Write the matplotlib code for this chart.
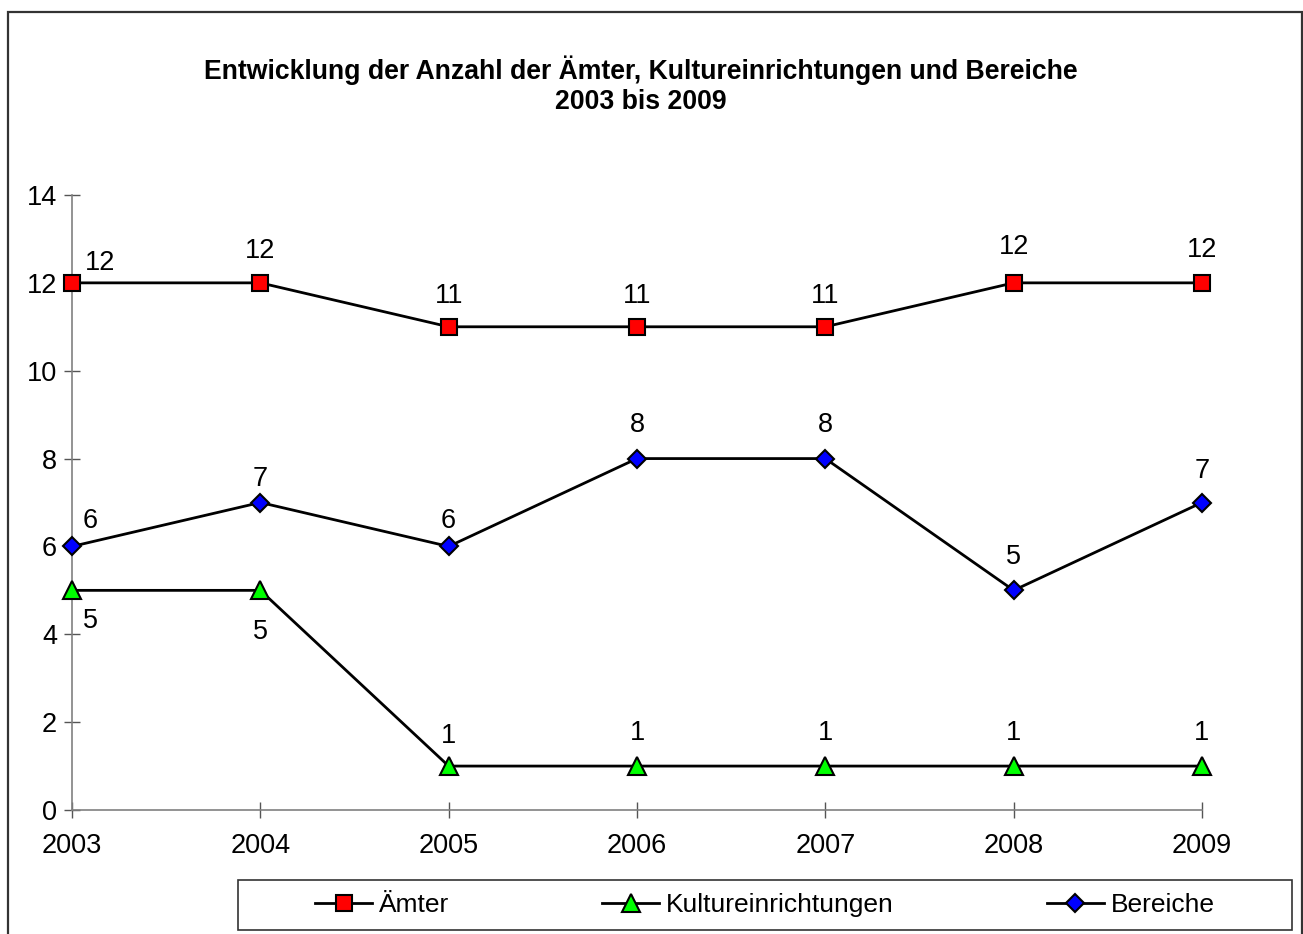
import matplotlib
matplotlib.use("Agg")
import matplotlib.pyplot as plt
from matplotlib.patches import Rectangle

plt.rcParams['font.family'] = ['Liberation Sans', 'DejaVu Sans']

years = [2003, 2004, 2005, 2006, 2007, 2008, 2009]
aemter = [12, 12, 11, 11, 11, 12, 12]
kultur = [5, 5, 1, 1, 1, 1, 1]
bereiche = [6, 7, 6, 8, 8, 5, 7]

# label offsets in points (dx, dy) per point
off_aemter = [(20, 14), (0, 23), (0, 22), (0, 22), (0, 22), (0, 26), (0, 24)]
off_kultur = [(13, -22), (0, -30), (0, 22), (0, 24), (0, 24), (0, 24), (0, 24)]
off_bereiche = [(13, 18), (0, 17), (0, 18), (0, 24), (0, 24), (0, 24), (0, 23)]

W, H = 1303, 934
fig = plt.figure(figsize=(W / 100, H / 100), dpi=100)
ax = fig.add_axes([72 / W, 1 - 810 / H, (1202 - 72) / W, (810 - 195) / H])

series = [
    ('Ämter', aemter, 's', '#ff0000', 12, off_aemter),
    ('Kultureinrichtungen', kultur, '^', '#00ff00', 13, off_kultur),
    ('Bereiche', bereiche, 'D', '#0000ff', 9.5, off_bereiche),
]
handles = []
for name, vals, mk, col, ms, offs in series:
    h, = ax.plot(years, vals, color='black', lw=2, marker=mk, markersize=ms,
                 markerfacecolor=col, markeredgecolor='black', markeredgewidth=1.5,
                 clip_on=False, zorder=3, label=name)
    handles.append(h)
    for x, y, (dx, dy) in zip(years, vals, offs):
        ax.annotate(str(y), (x, y), xytext=(dx, dy), textcoords='offset points',
                    ha='center', va='center', fontsize=19.5)

ax.set_xlim(2003, 2009)
ax.set_ylim(0, 14)
ax.set_xticks(years)
ax.set_yticks(range(0, 15, 2))
for s in ['top', 'right']:
    ax.spines[s].set_visible(False)
for s in ['left', 'bottom']:
    ax.spines[s].set_color('#808080')
    ax.spines[s].set_linewidth(1.2)
ax.tick_params(axis='both', direction='inout', length=11.5, width=1, color='#555555',
               labelsize=19.5)
ax.tick_params(axis='y', pad=5)
ax.tick_params(axis='x', pad=11)

fig.text(641 / W, 1 - 70 / H, 'Entwicklung der Anzahl der Ämter, Kultureinrichtungen und Bereiche',
         ha='center', va='center', fontsize=19.2, fontweight='bold')
fig.text(641 / W, 1 - 102 / H, '2003 bis 2009', ha='center', va='center',
         fontsize=19.2, fontweight='bold')

# outer border
fig.add_artist(Rectangle((8 / W, -0.05), (1302 - 8) / W, 0.05 + 1 - 12 / H,
                         transform=fig.transFigure, fill=False, edgecolor='#333333',
                         lw=1.6, clip_on=False))
# legend frame
fig.add_artist(Rectangle((238 / W, 1 - 930 / H), (1292 - 238) / W, 50 / H,
                         transform=fig.transFigure, fill=False, edgecolor='#333333',
                         lw=1.2, clip_on=False))
fig.legend(handles=handles, loc='center', bbox_to_anchor=(765 / W, 1 - 905 / H),
           ncol=3, frameon=False, fontsize=19, handlelength=2.15, handletextpad=0.27,
           columnspacing=5.8, borderpad=0)

fig.savefig('out.png', dpi=100)
